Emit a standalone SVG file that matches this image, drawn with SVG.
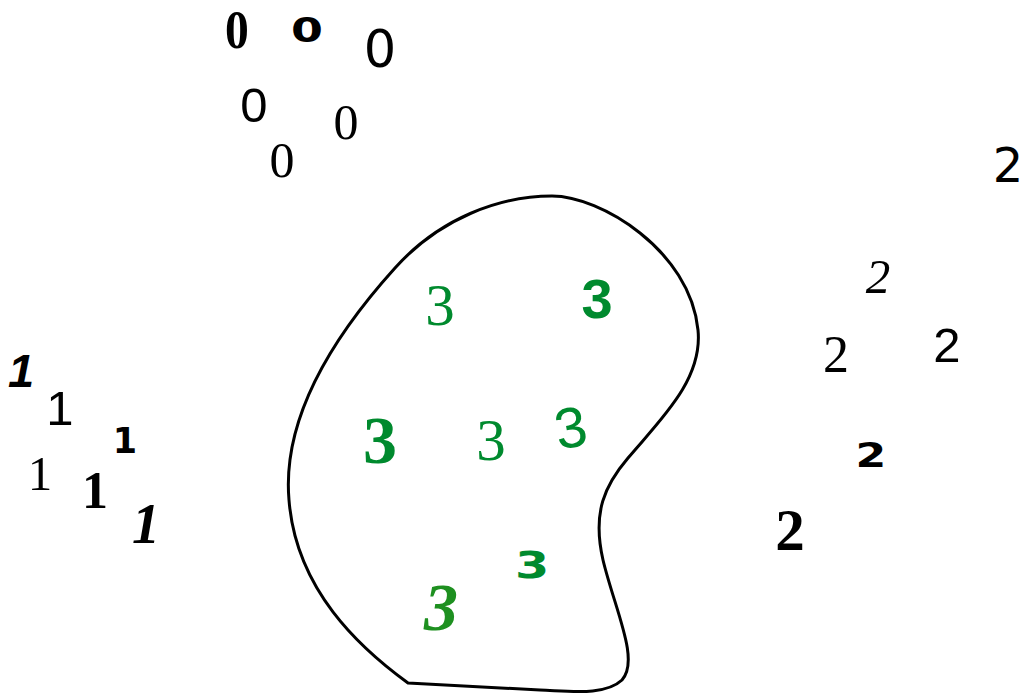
<svg xmlns="http://www.w3.org/2000/svg" width="1025" height="693" viewBox="0 0 1025 693">
<style>
text{text-anchor:middle;fill:#000}
.s{font-family:"Liberation Sans",Arial,sans-serif}
.r{font-family:"Liberation Serif","Times New Roman",serif}
.d{font-family:"DejaVu Sans",sans-serif}
.g{fill:#008a2e}
</style>
<rect width="1025" height="693" fill="#fff"/>
<g id="blob">
<path d="M408,683 C360,648 296,590 289,500 C282,420 330,340 395,268 C440,218 500,196 552,196 C600,196 690,250 698,330 C703,380 660,420 628,458 C605,485 592,512 603,560 C615,610 640,660 622,680 C605,696 570,691 540,690 Z" fill="none" stroke="#000" stroke-width="3" stroke-linejoin="round"/>
</g>
<g id="zeros">
<text class="r" font-weight="bold" font-size="56" transform="translate(237,48) scale(0.85,1)">0</text>
<text class="d" font-weight="bold" font-size="34" transform="translate(307,42) scale(1.35,1)">0</text>
<text class="d" font-size="51" x="380" y="67">0</text>
<text class="s" font-size="49" x="254" y="122">0</text>
<text class="r" font-size="50" x="346" y="139">0</text>
<text class="r" font-size="50" x="282" y="177">0</text>
</g>
<g id="ones">
<text class="s" font-weight="bold" font-style="italic" font-size="47" x="21" y="387">1</text>
<text class="s" font-size="49" x="60" y="425">1</text>
<text class="d" font-weight="bold" font-size="35" x="125" y="453">1</text>
<text class="r" font-size="49" x="40" y="490">1</text>
<text class="r" font-weight="bold" font-size="52" x="95" y="508">1</text>
<text class="r" font-weight="bold" font-style="italic" font-size="56" x="146" y="543">1</text>
</g>
<g id="twos">
<text class="d" font-size="48" x="1008" y="182">2</text>
<text class="r" font-style="italic" font-size="49" x="878" y="293">2</text>
<text class="r" font-size="52" x="836" y="372">2</text>
<text class="s" font-size="49" x="947" y="362">2</text>
<text class="d" font-weight="bold" font-size="34" transform="translate(871,467) scale(1.3,1)">2</text>
<text class="r" font-weight="bold" font-size="59" x="790" y="550">2</text>
</g>
<g id="threes">
<text class="r g" font-size="59" x="440" y="325">3</text>
<text class="s g" font-weight="bold" font-size="56" x="597" y="318">3</text>
<text class="r g" font-weight="bold" font-size="68" x="380" y="463">3</text>
<text class="r g" font-size="59" x="491" y="460">3</text>
<text class="s g" font-size="57" transform="translate(574,447) rotate(-10)">3</text>
<text class="d g" font-weight="bold" font-size="41" transform="translate(532,578) scale(1.2,0.9)">3</text>
<text class="r" font-weight="bold" font-style="italic" font-size="68" x="441" y="630" style="fill:#1e9020">3</text>
</g>
</svg>
